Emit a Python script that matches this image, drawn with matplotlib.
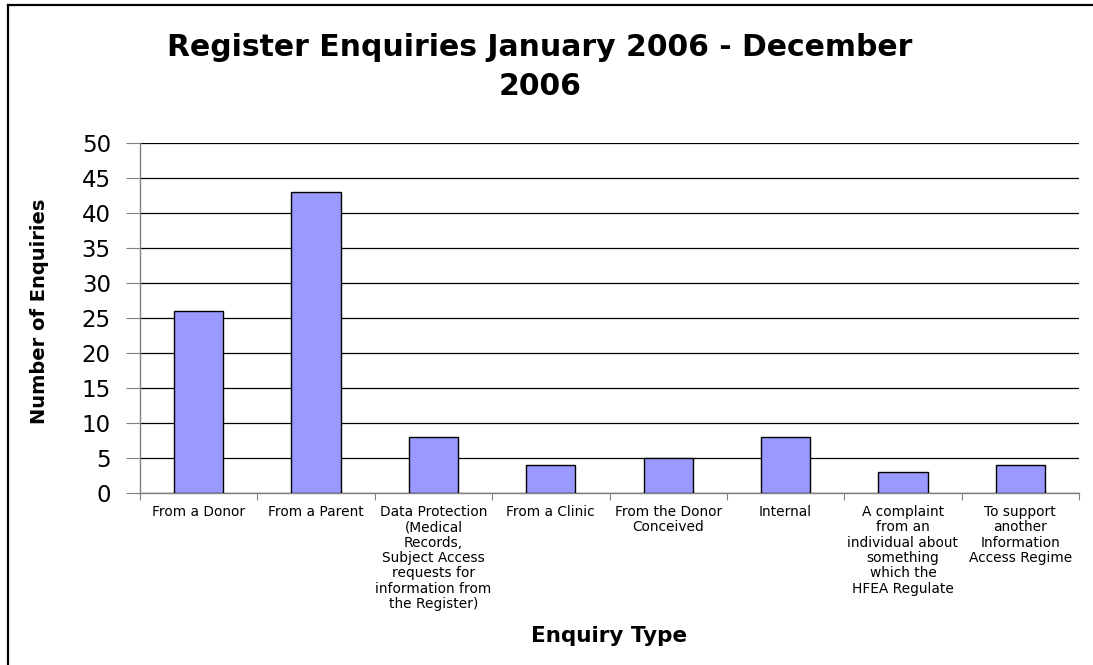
import matplotlib
matplotlib.use("Agg")
import matplotlib.pyplot as plt
from matplotlib.lines import Line2D

categories = [
    "From a Donor",
    "From a Parent",
    "Data Protection\n(Medical\nRecords,\nSubject Access\nrequests for\ninformation from\nthe Register)",
    "From a Clinic",
    "From the Donor\nConceived",
    "Internal",
    "A complaint\nfrom an\nindividual about\nsomething\nwhich the\nHFEA Regulate",
    "To support\nanother\nInformation\nAccess Regime",
]
values = [26, 43, 8, 4, 5, 8, 3, 4]
yticks = [0, 5, 10, 15, 20, 25, 30, 35, 40, 45, 50]

plt.rcParams['font.family'] = ['DejaVu Sans']

W, H = 1093, 665
fig = plt.figure(figsize=(W / 100, H / 100), dpi=100)
ax = fig.add_axes([140 / W, 1 - 492.5 / H, (1079 - 140) / W, (492.5 - 143) / H])

x = list(range(len(values)))
ax.bar(x, values, width=0.42, color="#9999FF", edgecolor="black", linewidth=1.0, zorder=3)

ax.set_xlim(-0.5, len(values) - 0.5)
ax.set_ylim(0, 50)
ax.set_yticks(yticks)
ax.set_yticklabels([str(v) for v in yticks], fontsize=16.5)
ax.yaxis.grid(True, color="black", linewidth=0.9, zorder=0)
ax.set_axisbelow(True)

ax.set_xticks([i - 0.5 for i in range(len(values) + 1)])
ax.set_xticklabels([])
ax.set_xticks(x, minor=True)
ax.set_xticklabels(categories, minor=True, fontsize=9.9, linespacing=1.12, va="top")
ax.tick_params(axis="x", which="minor", length=0, pad=9)
ax.tick_params(axis="x", which="major", length=5, direction="out", color="#808080")
ax.tick_params(axis="y", length=10, direction="out", color="#808080", pad=11)

for s in ["top", "right"]:
    ax.spines[s].set_visible(False)
for s in ["left", "bottom"]:
    ax.spines[s].set_color("#808080")
    ax.spines[s].set_linewidth(1.0)

fig.text(540 / W, 1 - 67 / H, "Register Enquiries January 2006 - December\n2006",
         ha="center", va="center", fontsize=21.5, fontweight="bold", linespacing=1.4)
fig.text(609 / W, 1 - 636 / H, "Enquiry Type", ha="center", va="center",
         fontsize=15.5, fontweight="bold")
fig.text(40 / W, 1 - 311 / H, "Number of Enquiries", ha="center", va="center",
         rotation=90, fontsize=14, fontweight="bold")

# figure border (left and top)
fig.add_artist(Line2D([7.5 / W, 7.5 / W], [0, 1 - 5 / H], transform=fig.transFigure,
                      color="black", linewidth=1.6))
fig.add_artist(Line2D([7.5 / W, 1], [1 - 5 / H, 1 - 5 / H], transform=fig.transFigure,
                      color="black", linewidth=1.6))

fig.savefig("out.png", dpi=100)
